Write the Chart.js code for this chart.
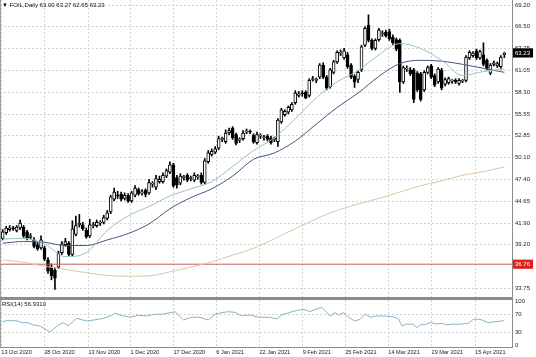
<!DOCTYPE html>
<html><head><meta charset="utf-8">
<script src="https://cdn.jsdelivr.net/npm/chart.js@4.4.0/dist/chart.umd.min.js"></script>
<style>
html,body{margin:0;padding:0;background:#fff;width:536px;height:357px;overflow:hidden;position:relative}
canvas{position:absolute;left:0}
#main{top:0}
#rsi{top:297px}
.lbl{position:absolute;font-family:'Liberation Sans',Arial,sans-serif;font-size:6px;line-height:6px;color:#111;white-space:nowrap}
</style></head><body>
<canvas id="main" width="536" height="297"></canvas>
<canvas id="rsi" width="536" height="60"></canvas>
<div class="lbl" id="hdr" style="left:2px;top:2px"></div>
<div class="lbl" id="rsiHdr" style="left:2px;top:301px"></div>
<script>
const symbol = 'FOIL';
const opens = [40.0,40.7,41.1,41.3,41.0,41.3,41.4,40.8,40.1,39.8,
 39.2,38.8,38.8,37.3,36.4,36.0,36.4,38.2,39.2,39.4,
 38.0,40.5,41.7,41.7,41.0,40.3,41.6,41.6,41.9,42.0,
 42.5,43.3,44.9,45.4,45.5,45.0,45.4,44.7,45.4,46.1,
 45.7,46.0,45.7,46.8,46.4,47.1,47.1,47.8,48.3,49.2,
 47.6,46.9,47.6,47.9,47.5,47.3,47.7,47.9,47.0,49.6,
 50.5,50.8,51.3,52.4,52.1,53.2,53.8,53.0,52.3,52.5,
 53.3,53.4,52.9,52.0,52.8,52.6,52.8,52.6,52.4,52.1,
 54.6,55.5,55.8,56.1,57.0,57.9,58.2,58.3,57.9,59.9,
 59.8,60.2,61.7,60.2,59.0,60.8,62.1,63.2,62.6,63.0,
 61.7,60.3,59.9,61.1,64.2,66.7,64.8,63.8,64.9,65.6,
 65.8,65.9,65.2,64.9,64.8,59.6,61.2,61.1,61.1,60.7,
 60.6,58.6,60.8,61.6,60.4,59.6,61.1,59.3,59.5,59.7,
 59.8,59.4,59.7,59.8,62.6,62.9,63.5,62.6,63.0,62.3,
 60.7,61.8,61.6,61.5,63.00];
const highs = [41.1,41.5,41.6,41.5,41.6,42.3,41.6,41.0,40.6,40.1,
 39.5,40.3,39.0,37.6,36.8,36.3,38.4,39.6,40.0,39.6,
 42.2,42.8,43.0,42.0,41.3,42.4,42.0,42.3,42.2,42.9,
 43.5,45.4,46.3,45.9,45.8,45.7,45.6,45.9,46.6,46.3,
 46.1,46.2,47.4,47.1,47.9,47.8,48.2,48.7,49.6,49.4,
 47.9,48.1,47.9,48.1,47.8,48.2,48.0,48.2,50.0,51.0,
 51.2,51.5,52.8,52.7,53.6,53.8,54.0,53.2,52.6,53.5,
 53.7,53.6,53.1,53.3,53.1,52.9,53.0,52.8,52.7,55.0,
 56.3,56.1,56.6,57.0,58.5,58.4,58.5,58.5,60.0,60.3,
 60.1,61.9,62.0,60.4,61.3,62.3,63.5,63.6,63.8,63.3,
 61.9,60.5,61.0,64.2,66.5,68.0,65.0,65.0,66.3,66.0,
 66.1,66.2,65.5,65.1,65.0,61.6,61.6,61.4,61.3,60.9,
 60.8,61.0,61.6,61.8,60.6,61.4,61.3,60.1,60.2,59.9,
 60.0,60.0,59.9,62.9,63.5,63.4,63.7,63.6,64.5,62.5,
 61.9,62.2,62.1,62.9,63.27];
const lows = [39.8,40.5,40.9,41.0,40.8,41.1,40.1,39.8,39.9,38.8,
 38.5,38.6,37.2,35.6,34.8,33.6,36.2,38.0,39.0,37.8,
 37.8,40.3,41.4,41.0,40.0,40.1,41.3,41.4,41.6,41.8,
 42.3,43.1,44.7,45.0,44.7,44.8,44.5,44.5,45.2,45.4,
 45.4,45.2,45.5,46.4,46.1,46.9,46.9,47.6,48.1,46.4,
 46.3,46.7,47.3,47.1,47.2,47.1,47.4,46.8,46.8,49.4,
 50.3,50.6,51.1,52.1,51.9,53.0,52.4,51.7,52.0,52.3,
 53.1,53.1,51.9,51.8,52.5,52.3,52.2,51.8,52.1,51.5,
 54.4,55.3,55.6,55.9,56.8,57.7,57.8,57.5,57.7,59.7,
 59.5,60.0,60.0,58.6,58.8,60.6,61.9,62.9,62.4,61.3,
 60.0,58.9,59.5,60.9,64.0,64.6,63.6,63.6,64.7,65.3,
 65.2,64.8,64.3,63.5,58.3,59.4,60.9,60.4,57.0,58.4,
 57.2,58.4,60.6,60.0,59.0,59.4,58.6,59.1,59.3,59.4,
 59.4,59.2,59.5,59.6,62.4,62.7,62.4,62.4,61.6,61.1,
 60.5,61.6,61.4,61.3,62.65];
const closes = [40.8,41.3,41.3,41.2,41.4,41.9,40.3,40.0,40.3,39.0,
 38.7,39.8,37.4,35.9,35.3,35.0,38.1,39.3,39.6,38.0,
 41.2,41.6,41.9,41.2,40.2,41.7,41.7,42.0,41.9,42.6,
 43.2,45.2,45.8,45.3,44.9,45.4,44.7,45.7,46.3,45.6,
 45.8,45.5,47.0,46.8,47.5,47.4,47.9,48.5,49.2,46.6,
 46.7,47.8,47.6,47.3,47.5,47.9,47.7,47.0,49.7,50.7,
 50.9,51.2,52.5,52.4,53.2,53.5,52.6,51.9,52.3,53.2,
 53.4,53.3,52.1,53.0,52.8,52.6,52.4,52.0,52.4,54.8,
 56.1,55.9,56.4,56.8,58.2,58.1,58.1,57.6,59.8,60.0,
 59.8,61.7,60.2,58.8,61.1,62.1,63.3,63.2,63.5,61.5,
 60.2,59.6,60.8,64.0,66.3,64.8,63.8,64.8,66.1,65.6,
 65.4,65.0,64.5,63.7,59.6,61.4,61.3,60.6,57.4,58.6,
 57.4,60.8,61.4,60.2,59.2,61.2,58.8,59.9,60.0,59.7,
 59.6,59.8,59.7,62.7,63.3,63.2,62.6,63.4,61.8,61.3,
 61.7,62.0,61.9,62.7,63.23];

// moving averages every 6th bar
const maBars = [0,6,12,18,24,30,36,42,48,54,60,66,72,78,84,90,96,102,108,114,120,126,132,138,144];
const fastMA = [39.9,40.0,39.3,37.7,38.2,41.0,42.8,44.0,45.3,46.2,47.1,49.0,51.0,52.6,55.0,57.6,59.6,61.0,63.0,64.4,63.8,62.3,60.4,60.9,61.2];
const slowMA = [39.4,39.6,39.5,39.1,39.1,39.8,40.6,41.8,43.7,45.1,46.2,47.8,49.9,50.7,52.2,54.3,56.4,58.2,60.3,61.9,62.3,62.2,61.8,61.3,60.8];
const longMA = [37.3,37.0,36.5,36.1,35.7,35.35,35.25,35.3,35.8,36.4,37.05,37.9,38.75,39.95,41.2,42.45,43.5,44.3,45.0,45.8,46.6,47.2,47.9,48.35,48.95];
const hLine = 36.76;

const rsiBars = [0,1.1,4.0,5.5,6.9,8.8,10.7,12.6,13.6,14.5,16.0,17.4,18.8,21.2,24.1,26.0,28.9,30.8,32.2,33.7,36.5,38.9,41.3,43.7,46.1,49.5,51.9,54.3,56.6,59.0,61.0,62.9,64.8,66.7,68.6,71.0,73.4,76.3,78.7,80.1,82.5,84.9,86.8,88.2,89.2,91.6,92.5,94.0,95.4,96.4,97.8,99.7,101.1,102.6,104.0,105.5,107.4,109.3,112.1,113.6,114.6,116.0,117.9,118.9,120.3,121.2,122.7,124.6,126.0,127.5,128.9,131.3,133.7,135.1,137.0,139.4,141.3,142.8,144];
const rsiVals = [54.1,56.4,56.4,51.8,52.7,46.6,44.4,35.3,30.7,36.8,46.6,51.8,44.4,61.8,55.7,57.7,61.8,67.1,73.2,69.4,64.1,68.6,67.1,70.9,71.4,76.8,58.0,64.1,64.1,58.0,70.9,74.7,76.8,75.4,67.1,69.4,64.1,64.1,60.3,69.4,75.4,80.7,81.4,76.8,80.4,86.8,79.5,67.1,74.7,69.4,74.7,61.8,55.7,59.5,71.6,64.1,67.1,67.1,65.6,60.3,45.0,48.6,48.2,40.5,48.6,46.8,52.3,48.6,50.5,46.6,48.6,48.2,50.5,59.5,59.5,51.8,54.1,55.0,56.931];

const priceTicks = [69.20,66.50,63.75,61.05,58.30,55.55,52.85,50.10,47.40,44.65,41.90,39.20,33.75];
const rsiTicks = [100,70,30,0];
const rsiLevels = [70,30];
const tickBars = [-0.4,11.9,24.6,36.7,49.0,61.3,73.7,86.1,98.3,110.7,123.1,135.6];
const tickLabels = ['13 Oct 2020','28 Oct 2020','13 Nov 2020','1 Dec 2020','17 Dec 2020','6 Jan 2021','22 Jan 2021','9 Feb 2021','25 Feb 2021','14 Mar 2021','29 Mar 2021','15 Apr 2021'];

const xMin = -0.775, xMax = 146.2;
const last = closes.length - 1;
const lastPrice = closes[last];

document.getElementById('hdr').textContent = '\u25BC ' + symbol + ',Daily ' +
  [opens[last], highs[last], lows[last], closes[last]].map(v => v.toFixed(2)).join(' ');
document.getElementById('rsiHdr').textContent = 'RSI(14) ' + rsiVals[rsiVals.length - 1].toFixed(4);

Chart.defaults.font.family = "'Liberation Sans', Arial, sans-serif";
Chart.defaults.font.size = 6;
Chart.defaults.color = '#222';

const boxColors = {};
boxColors[lastPrice] = '#000000';
boxColors[hLine] = '#e3201b';
const isBox = c => !!(c && c.tick && boxColors[c.tick.value]);

const GRID = '#d2d2d2';
const AXIS = '#8a8a8a';

const idx = closes.map((_, i) => i);
const ln = (bars, vals) => bars.map((b, k) => ({x: b, y: vals[k]}));

const framePlugin = {
  id: 'frame',
  afterDraw(chart) {
    const ctx = chart.ctx, a = chart.chartArea;
    ctx.save();
    ctx.strokeStyle = '#a0a0a0';
    ctx.lineWidth = 1;
    ctx.beginPath();
    ctx.moveTo(0.5, a.top); ctx.lineTo(0.5, a.bottom);
    ctx.stroke();
    ctx.restore();
  }
};
const sepPlugin = {
  id: 'sep',
  afterDraw(chart) {
    const ctx = chart.ctx;
    ctx.save();
    ctx.fillStyle = '#8c8c8c';
    ctx.fillRect(0, 0, chart.chartArea.right + 1, 3);
    ctx.restore();
  }
};

const xCommon = (showLabels) => ({
  type: 'linear', min: xMin, max: xMax, offset: false,
  afterBuildTicks: s => { s.ticks = tickBars.map(v => ({value: v})); },
  ticks: {
    display: showLabels, autoSkip: false, maxRotation: 0, minRotation: 0,
    align: 'start', padding: 2, font: {size: 5.6}, color: '#222',
    callback: (v, i) => tickLabels[i]
  },
  grid: {color: GRID, drawTicks: false, offset: false},
  border: {display: showLabels, color: AXIS, dash: [2, 2]},
  afterFit: s => { s.height = showLabels ? 10 : 0; s.paddingLeft = 0; s.paddingRight = 0; }
});

new Chart(document.getElementById('main'), {
  type: 'bar',
  data: {
    datasets: [
      {type: 'line', data: ln(maBars, fastMA), borderColor: '#94c4b8', borderWidth: 1, pointRadius: 0, cubicInterpolationMode: 'monotone', order: 0},
      {type: 'line', data: ln(maBars, slowMA), borderColor: '#4e5183', borderWidth: 1, pointRadius: 0, cubicInterpolationMode: 'monotone', order: 0},
      {type: 'line', data: ln(maBars, longMA), borderColor: '#dcc4a2', borderWidth: 1, pointRadius: 0, cubicInterpolationMode: 'monotone', order: 0},
      {type: 'line', data: [{x: xMin, y: hLine}, {x: xMax, y: hLine}], borderColor: '#c65b55', borderWidth: 1, pointRadius: 0, order: 0},
      {type: 'bar', data: idx.map(i => ({x: i, y: [opens[i], closes[i]]})),
        backgroundColor: idx.map(i => closes[i] >= opens[i] ? '#ffffff' : '#000000'),
        borderColor: '#000000', borderWidth: 1, borderSkipped: false,
        barThickness: 3, grouped: false, minBarLength: 1, order: 1},
      {type: 'bar', data: idx.map(i => ({x: i, y: [lows[i], highs[i]]})),
        backgroundColor: '#000000', borderWidth: 0, barThickness: 1, grouped: false, order: 2}
    ]
  },
  options: {
    responsive: false, animation: false, events: [],
    layout: {padding: 0},
    plugins: {legend: {display: false}, tooltip: {enabled: false}},
    scales: {
      x: xCommon(false),
      y: {
        position: 'right', min: 32.65, max: 69.86,
        afterBuildTicks: s => { s.ticks = [...priceTicks, lastPrice, hLine].map(v => ({value: v})); },
        ticks: {
          autoSkip: false, padding: 3, font: {size: 6},
          color: c => isBox(c) ? '#ffffff' : '#222',
          showLabelBackdrop: c => isBox(c),
          backdropColor: c => (c && c.tick && boxColors[c.tick.value]) || 'rgba(0,0,0,0)',
          backdropPadding: {top: 1, bottom: 1, left: 2, right: 3},
          callback: v => Number(v).toFixed(2)
        },
        grid: {color: c => isBox(c) ? 'rgba(0,0,0,0)' : GRID, drawTicks: false},
        border: {display: true, color: AXIS, dash: [2, 2]},
        afterFit: s => { s.width = 24; s.paddingTop = 0; s.paddingBottom = 0; }
      }
    }
  },
  plugins: [framePlugin]
});

new Chart(document.getElementById('rsi'), {
  type: 'line',
  data: {
    datasets: [
      {data: ln(rsiBars, rsiVals), borderColor: '#8ab2c6', borderWidth: 1, pointRadius: 0, tension: 0}
    ]
  },
  options: {
    responsive: false, animation: false, events: [],
    layout: {padding: {top: 3, left: 0, right: 0, bottom: 0}},
    plugins: {legend: {display: false}, tooltip: {enabled: false}},
    scales: {
      x: xCommon(true),
      y: {
        position: 'right', min: -3.4, max: 103.4,
        afterBuildTicks: s => { s.ticks = rsiTicks.map(v => ({value: v})); },
        ticks: {autoSkip: false, padding: 3, font: {size: 6}, color: '#222', callback: v => String(v)},
        grid: {color: c => (c && c.tick && rsiLevels.includes(c.tick.value)) ? GRID : 'rgba(0,0,0,0)', drawTicks: false},
        border: {display: true, color: AXIS, dash: [2, 2]},
        afterFit: s => { s.width = 24; s.paddingTop = 0; s.paddingBottom = 0; }
      }
    }
  },
  plugins: [framePlugin, sepPlugin]
});
</script>
</body></html>
